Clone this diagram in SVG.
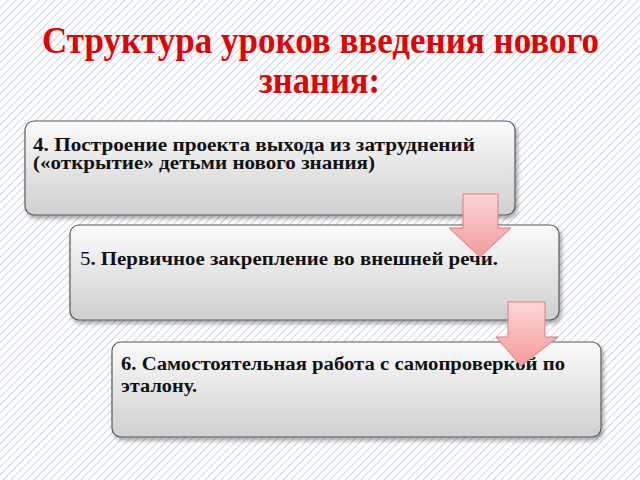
<svg xmlns="http://www.w3.org/2000/svg" width="640" height="480" viewBox="0 0 640 480">
<defs>
<pattern id="hatch" width="5.5" height="5.5" patternUnits="userSpaceOnUse" patternTransform="rotate(45)">
<rect width="5.5" height="5.5" fill="#ffffff"/>
<line x1="0" y1="0" x2="0" y2="5.5" stroke="#b3c6de" stroke-width="1.4"/>
</pattern>
<linearGradient id="boxg" x1="0" y1="0" x2="0" y2="1">
<stop offset="0" stop-color="#fbfbfb"/>
<stop offset="1" stop-color="#cfcfcf"/>
</linearGradient>
<linearGradient id="arrg" x1="0" y1="0" x2="0" y2="1">
<stop offset="0" stop-color="#fdd6d6"/>
<stop offset="1" stop-color="#f49a9a"/>
</linearGradient>
<filter id="sh" x="-5%" y="-5%" width="115%" height="125%">
<feDropShadow dx="2" dy="3" stdDeviation="2" flood-color="#000" flood-opacity="0.35"/>
</filter>
</defs>
<style>
.box{fill:url(#boxg);stroke:#5a5a5a;stroke-width:1.2;filter:url(#sh)}
.t{font-family:"Liberation Serif","DejaVu Serif",serif;font-weight:bold;font-size:18px;fill:#111}
.n{font-weight:normal}
.title{font-family:"Liberation Serif","DejaVu Serif",serif;font-weight:bold;font-size:34px;fill:#e60000}
.arr{fill:url(#arrg);stroke:#e07a7a;stroke-width:1}
</style>
<rect width="640" height="480" fill="url(#hatch)"/>
<g id="title">
<text class="title" x="42" y="0" transform="translate(0,53) scale(1,1.12)" textLength="557" lengthAdjust="spacingAndGlyphs">Структура уроков введения нового</text>
<text class="title" x="259" y="0" transform="translate(0,93) scale(1,1.12)" textLength="121" lengthAdjust="spacingAndGlyphs">знания:</text>
</g>
<g id="node4">
<rect class="box" x="25" y="121" width="490" height="94" rx="9"/>
<text class="t" x="33" y="151" textLength="442" lengthAdjust="spacingAndGlyphs">4. Построение проекта выхода из затруднений</text>
<text class="t" x="33" y="169" textLength="342" lengthAdjust="spacingAndGlyphs">(«открытие» детьми нового знания)</text>
</g>
<g id="node5">
<rect class="box" x="70" y="225" width="489" height="95" rx="9"/>
<text class="t" x="80" y="265" textLength="418" lengthAdjust="spacingAndGlyphs"><tspan class="n">5</tspan>. Первичное закрепление во внешней речи.</text>
</g>
<g id="node6">
<rect class="box" x="112" y="342" width="489" height="95" rx="9"/>
<text class="t" x="121" y="370" textLength="444" lengthAdjust="spacingAndGlyphs">6. Самостоятельная работа с самопроверкой по</text>
<text class="t" x="121" y="392" textLength="76" lengthAdjust="spacingAndGlyphs">эталону.</text>
</g>
<g id="connectors">
<path class="arr" d="M463,194 H498 V228 H511 L480,257 L449,228 H463 Z"/>
<path class="arr" d="M508,302 H545 V337 H558 L521,366 L496,337 H508 Z"/>
</g>
</svg>
